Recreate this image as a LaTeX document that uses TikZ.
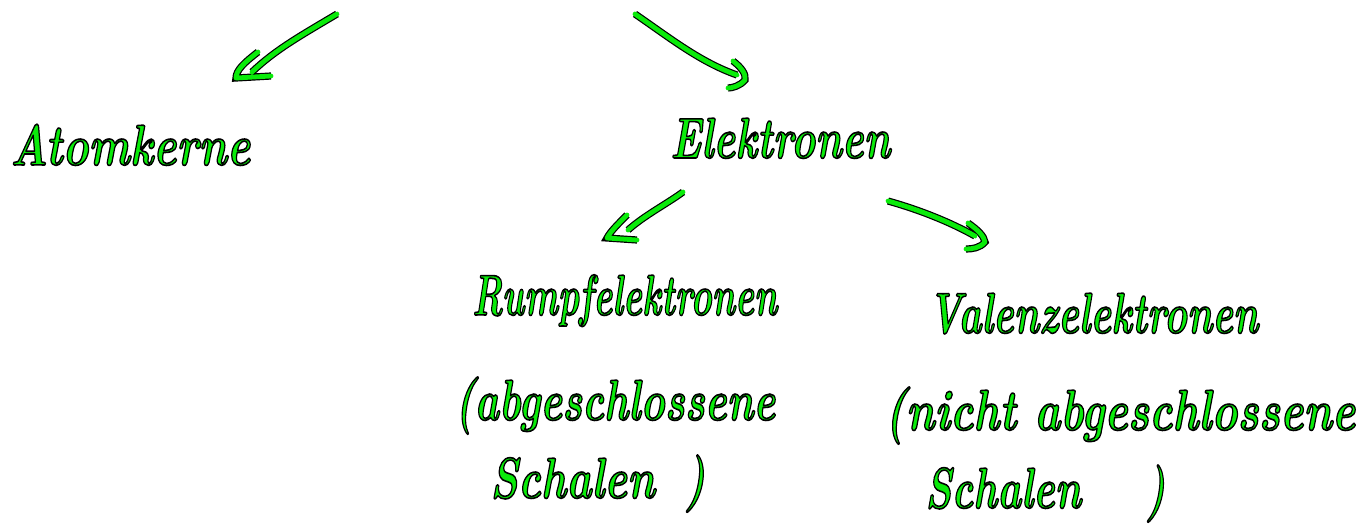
\documentclass[tikz,border=0pt]{standalone}
\usepackage{fontspec}
\definecolor{hgreen}{RGB}{10,235,10}
\newcommand{\outl}[1]{\special{pdf:literal direct 2 Tr 1.4 w 1 j 0 0 0 RG}#1\special{pdf:literal direct 0 Tr}}
\newcommand{\hw}[2]{\resizebox{#1}{1.15\height}{\outl{#2}}}
\tikzset{
  hand/.style={draw=hgreen, line width=4.8pt, line cap=round, line join=round,
    preaction={draw=black, line width=7.2pt}},
  htext/.style={anchor=base west, inner sep=0pt, text=hgreen,
    font=\fontsize{50}{56}\selectfont\bfseries\itshape}
}
\begin{document}
\begin{tikzpicture}[x=1pt,y=-1pt]
\useasboundingbox (0,0) rectangle (1367,531);
% text nodes
\node[htext] (atom) at (10,165) {\hw{240pt}{Atomkerne}};
\node[htext] (elek) at (670,158) {\hw{220pt}{Elektronen}};
\node[htext] (rumpf) at (472,315) {\hw{305pt}{Rumpfelektronen}};
\node[htext] (val) at (928,333) {\hw{330pt}{Valenzelektronen}};
\node[htext] (rl1) at (455,420) {\hw{320pt}{(abgeschlossene}};
\node[htext] (rl2) at (490,498) {\hw{215pt}{Schalen\hspace{0.7em})}};
\node[htext] (vl1) at (885,430) {\hw{470pt}{(nicht abgeschlossene}};
\node[htext] (vl2) at (925,508) {\hw{240pt}{Schalen\hspace{1.6em})}};
% connector end points
\coordinate (s1) at (337,14);  \coordinate (e1) at (252,72);  \coordinate (t1) at (236,78);
\coordinate (s2) at (635,14);  \coordinate (e2) at (737,75);  \coordinate (t2) at (745,80);
\coordinate (s3) at (683,192); \coordinate (e3) at (628,230); \coordinate (t3) at (607,238);
\coordinate (s4) at (888,201); \coordinate (e4) at (975,236); \coordinate (t4) at (985,242);
% arrows
\draw[hand] (s1) .. controls (300,36) and (275,50) .. (e1)
  (258,52) .. controls (245,62) and (236,70) .. (t1) -- (271,76);
\draw[hand] (s2) .. controls (670,38) and (700,62) .. (e2)
  (733,61) .. controls (742,68) and (746,74) .. (t2) .. controls (740,86) and (732,88) .. (728,88);
\draw[hand] (s3) .. controls (665,205) and (645,215) .. (e3)
  (627,215) .. controls (618,224) and (610,232) .. (t3) -- (637,240);
\draw[hand] (s4) .. controls (920,210) and (950,222) .. (e4)
  (968,223) .. controls (978,230) and (984,236) .. (t4) .. controls (980,248) and (972,249) .. (966,249);
\end{tikzpicture}
\end{document}
